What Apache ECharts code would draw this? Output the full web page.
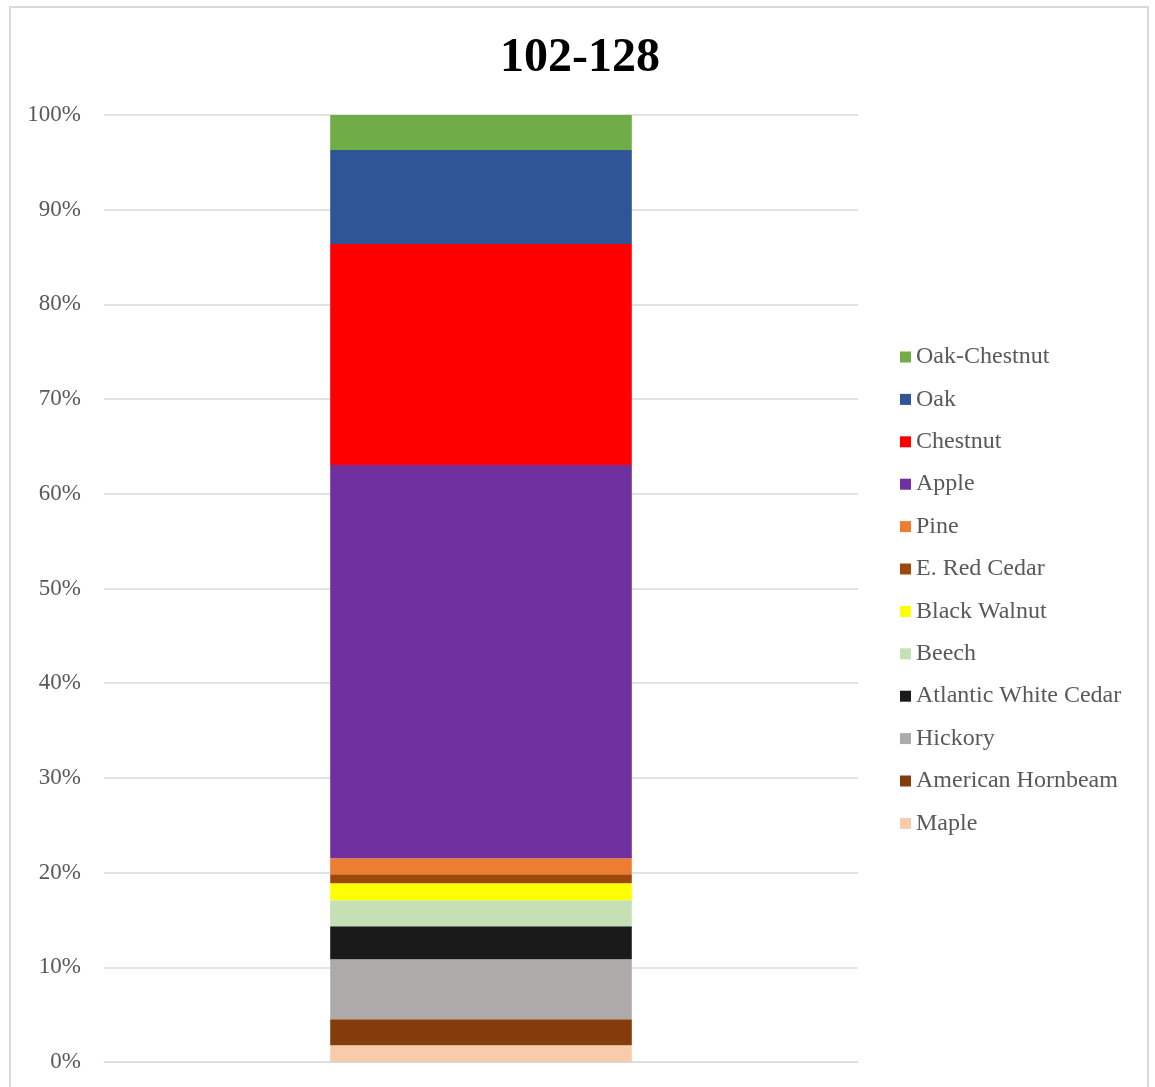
<!DOCTYPE html>
<html>
<head>
<meta charset="utf-8">
<title>102-128</title>
<script src="https://cdn.jsdelivr.net/npm/echarts@6/dist/echarts.min.js"></script>
<style>
  html, body { margin: 0; padding: 0; background: #ffffff; }
  #chart { width: 1155px; height: 1087px; }
</style>
</head>
<body>
<div id="chart"></div>
<script>
// Single column, shares of each wood type (percent of total)
const categories = ['102-128'];
const species = [
  'Maple', 'American Hornbeam', 'Hickory', 'Atlantic White Cedar', 'Beech',
  'Black Walnut', 'E. Red Cedar', 'Pine', 'Apple', 'Chestnut', 'Oak', 'Oak-Chestnut'
];
const shares = [1.76, 2.75, 6.34, 3.49, 2.75, 1.79, 0.95, 1.69, 41.52, 23.34, 9.93, 3.69];
const colors = [
  '#F8CBAD', '#843C0C', '#AEAAAA', '#1A1A1A', '#C5E0B4',
  '#FFFF00', '#9E480E', '#ED7D31', '#7030A0', '#FF0000', '#2F5597', '#70AD47'
];
const yTicks = [0, 10, 20, 30, 40, 50, 60, 70, 80, 90, 100];

const serif = '"Liberation Serif", "Times New Roman", serif';

const series = species.map((name, i) => ({
  name: name,
  type: 'bar',
  stack: 'total',
  barWidth: '40%',
  itemStyle: { color: colors[i] },
  data: [shares[i]]
}));

const chart = echarts.init(document.getElementById('chart'), null, { renderer: 'canvas' });
chart.setOption({
  animation: false,
  backgroundColor: '#ffffff',
  color: colors,
  title: {
    text: '102-128',
    left: 575,
    top: 30,
    textAlign: 'center',
    textStyle: { fontFamily: serif, fontSize: 48, fontWeight: 'bold', color: '#000000' }
  },
  graphic: [{
    type: 'rect',
    shape: { x: 10, y: 7, width: 1138, height: 1100 },
    style: { fill: 'none', stroke: '#d9d9d9', lineWidth: 2 },
    silent: true
  }],
  legend: {
    orient: 'vertical',
    left: 895,
    top: 340,
    itemWidth: 11,
    itemHeight: 11,
    itemGap: 18.4,
    icon: 'rect',
    data: species.slice().reverse(),
    textStyle: { fontFamily: serif, fontSize: 24, color: '#595959', lineHeight: 24 }
  },
  grid: { left: 104, right: 297, top: 115, bottom: 25 },
  xAxis: {
    type: 'category',
    data: categories,
    axisLine: { show: true, lineStyle: { color: '#d9d9d9', width: 1 } },
    axisTick: { show: false },
    axisLabel: { show: false }
  },
  yAxis: {
    type: 'value',
    min: yTicks[0],
    max: yTicks[yTicks.length - 1],
    interval: 10,
    axisLine: { show: false },
    axisTick: { show: false },
    splitLine: { lineStyle: { color: '#d9d9d9', width: 1.5 } },
    axisLabel: {
      formatter: v => v + '%',
      margin: 23,
      fontFamily: serif,
      fontSize: 23,
      color: '#595959',
      padding: [3, 0, 0, 0]
    }
  },
  series: series
});
</script>
</body>
</html>
